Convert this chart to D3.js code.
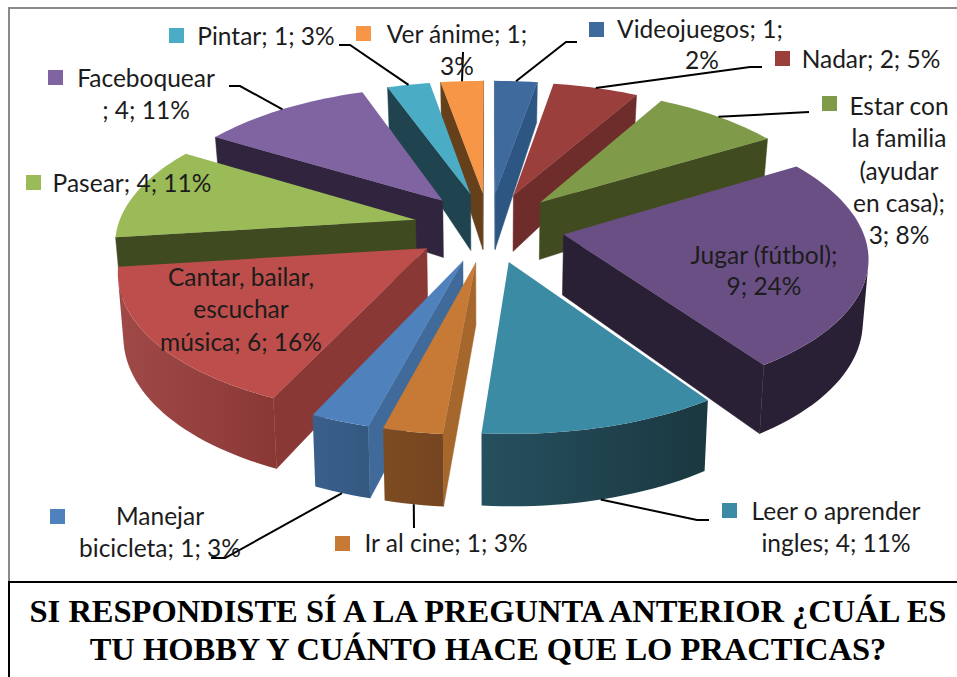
<!DOCTYPE html>
<html><head><meta charset="utf-8">
<script src="https://cdn.jsdelivr.net/npm/d3@7"></script>
<style>html,body{margin:0;padding:0;background:#fff;overflow:hidden}svg{display:block}
.lab{font-family:Lato,"Open Sans",sans-serif;font-size:24.5px;fill:#1c1c1c}
.ttl{font-family:"Liberation Serif",serif;font-weight:bold;font-size:32.5px;fill:#000}</style>
</head><body><svg id="c" width="957" height="677"></svg>
<script>
// ---- data ----
const categories = ["Videojuegos","Nadar","Estar con la familia (ayudar en casa)","Jugar (fútbol)","Leer o aprender ingles","Ir al cine","Manejar bicicleta","Cantar, bailar, escuchar música","Pasear","Faceboquear","Pintar","Ver ánime"];
const values = [1,2,3,9,4,1,1,6,4,4,1,1];
const titleLines = ["SI RESPONDISTE SÍ A LA PREGUNTA ANTERIOR ¿CUÁL ES","TU HOBBY Y CUÁNTO HACE QUE LO PRACTICAS?"];
// ---- styles ----
const topColors = ["#3F6A9E","#9B3F3D","#7F9A48","#6A4F85","#3C8BA4","#C67A35","#4F81BD","#BE4E4B","#9BBB59","#8064A2","#4BACC6","#F79646"];
const radialColors = ["#2E5682","#6E2D2B","#404C20","#2A2035","#1A3840","#A5672C","#3F6A99","#8A3836","#404A21","#30243F","#1F4450","#66401B"];
const outerFrom = ["#2E5682","#6E2D2B","#404C20","#2A2035","#1A3840","#744520","#345980","#8A3836","#404A21","#30243F","#1F4450","#66401B"];
const outerTo   = ["#2E5682","#6E2D2B","#404C20","#2A2035","#26505F","#7E4C22","#3A5F8C","#A04A48","#404A21","#30243F","#1F4450","#66401B"];
// ---- label layout ----
const labelLines = [
 [["Videojuegos; 1;",700,38],["2%",702,69]],
 [["Nadar; 2; 5%",871,68]],
 [["Estar con",899,115],["la familia",899,147],["(ayudar",899,180],["en casa);",899,212],["3; 8%",899,244]],
 [["Jugar (fútbol);",764,264],["9; 24%",764,295]],
 [["Leer o aprender",836,520],["ingles; 4; 11%",836,552]],
 [["Ir al cine; 1; 3%",446,552]],
 [["Manejar",160,525],["bicicleta; 1; 3%",160,557]],
 [["Cantar, bailar,",241,286],["escuchar",241,318],["música; 6; 16%",241,351]],
 [["Pasear; 4; 11%",132,192]],
 [["Faceboquear",146,87],["; 4; 11%",146,119]],
 [["Pintar; 1; 3%",266,45]],
 [["Ver ánime; 1;",457,43],["3%",457,75]]
];
const legendKeys = [[589,22],[775,51],[822,96],null,[722,503],[335,536],[50,509],null,[26,175],[48,70],[169,28],[356,26]];
// leader elbows, from the slice edge outward (null = no leader)
const leaders = [[[566,42],[577,42]],[[750,67],[762,67]],[[809,112]],null,[[697,520],[709,520]],[[414,528]],[[225,558],[211,558]],null,null,[[240,86],[229,86]],[[350,45],[339,45]],[[463,52]]];

// ---- projection ----
const cx=489, cy=227, R=298, tilt=0.46, persp=0.14, explode=0.254;
const project=(X,Z,down)=>{
  const s=1/(1+persp*Z);
  let x=cx+R*X*s, y=cy-tilt*R*Z*s;
  if(down){ x=cx+(x-cx)*0.985; y+=Z>0 ? 60-16*Z : 60-10*Z; }
  return [x,y];
};
const pie=d3.pie().sort(null).value(d=>d).startAngle(0).endAngle(2*Math.PI);
const arcs=pie(values).map((d,i)=>{
  const mid=(d.startAngle+d.endAngle)/2;
  const ax=explode*Math.sin(mid), az=explode*Math.cos(mid);
  const n=Math.max(3,Math.ceil((d.endAngle-d.startAngle)/0.03));
  const rim=d3.range(n+1).map(j=>{
    const a=d.startAngle+(d.endAngle-d.startAngle)*j/n;
    return [ax+Math.sin(a),az+Math.cos(a)];
  });
  return {i,mid,ax,az,rim};
});
const svg=d3.select("#c");
const defs=svg.append("defs");
const line=d3.line();
const area=q=>q[0][0]*q[1][1]-q[1][0]*q[0][1]+q[1][0]*q[2][1]-q[2][0]*q[1][1]+q[2][0]*q[3][1]-q[3][0]*q[2][1]+q[3][0]*q[0][1]-q[0][0]*q[3][1];
const quad=(A,B)=>[project(...A),project(...B),project(...B,true),project(...A,true)];
const g=svg.append("g");
// back-to-front painting
[...arcs].sort((a,b)=>b.az-a.az).forEach(s=>{
  const p=g.append("g");
  const apex=[s.ax,s.az], rim=s.rim;
  const flat=(A,B)=>{
    const q=quad(A,B);
    if(area(q)>0) return;
    p.append("path").attr("d",line(q)+"Z").attr("fill",radialColors[s.i]).attr("stroke",radialColors[s.i]).attr("stroke-width",0.5);
  };
  flat(apex,rim[0]);
  flat(rim[rim.length-1],apex);
  // outer wall: one polygon over the rim part that faces the viewer
  const front=rim.filter((d,j)=>{
    const A=rim[Math.max(j-1,0)], B=rim[Math.min(j+1,rim.length-1)];
    return area(quad(A,B))<0;
  });
  if(front.length>1){
    const up=front.map(d=>project(...d)), dn=front.map(d=>project(...d,true)).reverse();
    const id="w"+s.i;
    const lg=defs.append("linearGradient").attr("id",id).attr("gradientUnits","userSpaceOnUse")
      .attr("x1",up[0][0]).attr("y1",0).attr("x2",up[up.length-1][0]).attr("y2",0);
    lg.append("stop").attr("offset",0).attr("stop-color",outerFrom[s.i]);
    lg.append("stop").attr("offset",1).attr("stop-color",outerTo[s.i]);
    p.append("path").attr("d",line([...up,...dn])+"Z").attr("fill",`url(#${id})`);
  }
  const top=[apex,...rim].map(d=>project(...d));
  p.append("path").attr("d",line(top)+"Z").attr("fill",topColors[s.i]);
});
// leaders
arcs.forEach(s=>{
  const via=leaders[s.i]; if(!via) return;
  const X=s.ax+Math.sin(s.mid), Z=s.az+Math.cos(s.mid);
  const start=project(X,Z,Z<0);
  svg.append("path").attr("d",line([start,...via])).attr("fill","none").attr("stroke","#000").attr("stroke-width",2);
});
// legend keys
legendKeys.forEach((k,i)=>{ if(!k) return;
  svg.append("rect").attr("x",k[0]).attr("y",k[1]).attr("width",15).attr("height",15).attr("fill",topColors[i]);
});
// labels
labelLines.forEach(ls=>ls.forEach(l=>{
  svg.append("text").attr("class","lab").attr("x",l[1]).attr("y",l[2]).attr("text-anchor","middle").text(l[0]);
}));
// frame
svg.append("path").attr("d","M9,582V8H957").attr("fill","none").attr("stroke","#8a8a8a").attr("stroke-width",2);
svg.append("path").attr("d","M957,582H9V677").attr("fill","none").attr("stroke","#000").attr("stroke-width",2);
// title
titleLines.forEach((t,i)=>svg.append("text").attr("class","ttl").attr("x",488).attr("y",[622,660][i]).attr("text-anchor","middle").text(t));
</script></body></html>
